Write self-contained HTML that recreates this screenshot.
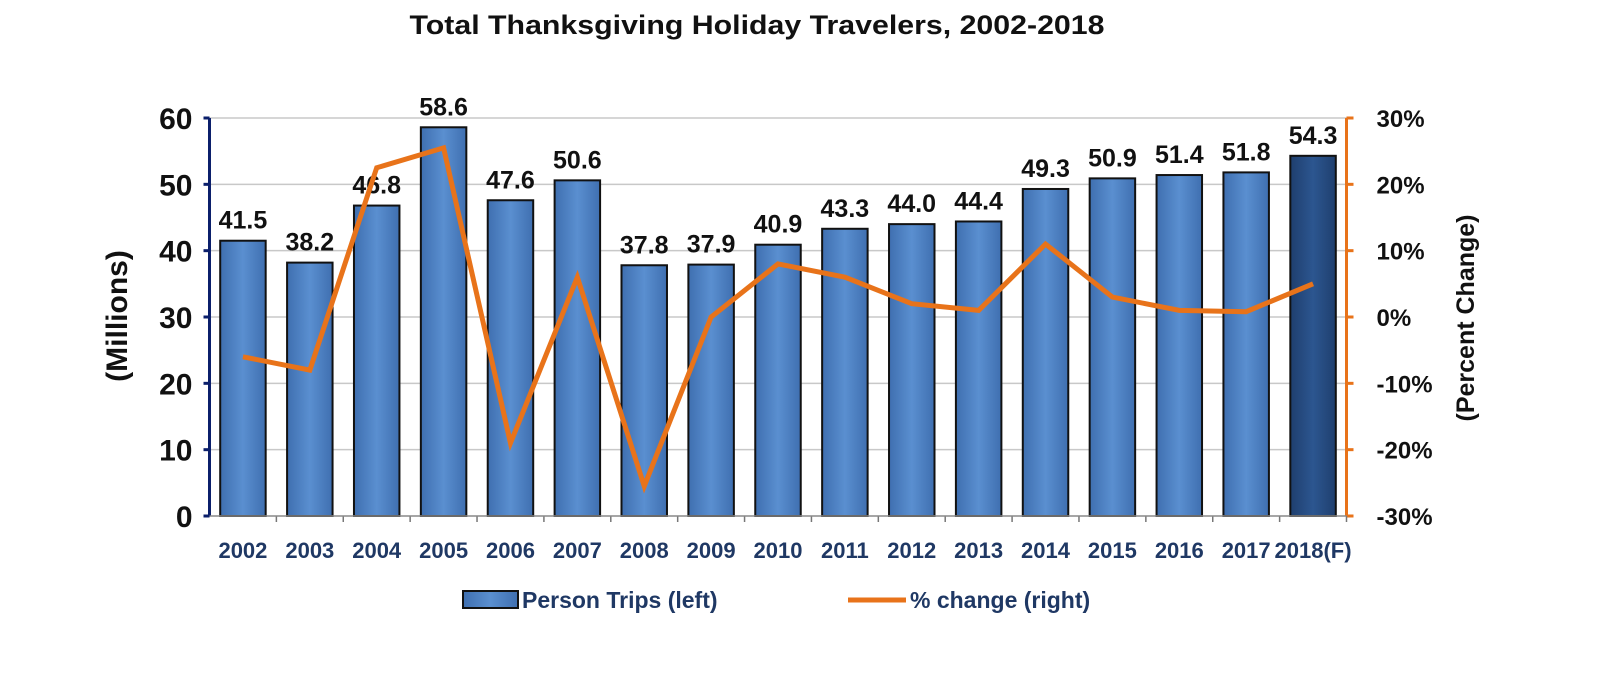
<!DOCTYPE html>
<html><head><meta charset="utf-8"><style>
body{margin:0;background:#fff;}
svg{display:block;font-family:"Liberation Sans",Arial,sans-serif;font-weight:bold;}
</style></head><body>
<svg id="chart" width="1598" height="676" viewBox="0 0 1598 676">
<defs>
<linearGradient id="gb" x1="0" x2="1" y1="0" y2="0">
<stop offset="0" stop-color="#3f6fb0"/><stop offset="0.5" stop-color="#5a8fd0"/><stop offset="1" stop-color="#3f6fb0"/></linearGradient>
<linearGradient id="gd" x1="0" x2="1" y1="0" y2="0">
<stop offset="0" stop-color="#1f3f6e"/><stop offset="0.5" stop-color="#2c5690"/><stop offset="1" stop-color="#1f3f6e"/></linearGradient>
</defs>
<text x="757" y="34" text-anchor="middle" font-size="27" fill="#111" textLength="695" lengthAdjust="spacingAndGlyphs">Total Thanksgiving Holiday Travelers, 2002-2018</text>
<g id="grid"></g><g id="bars"></g><g id="line"></g><g id="axes"></g>
<text transform="translate(127,316) rotate(-90)" text-anchor="middle" font-size="30" fill="#111">(Millions)</text>
<text transform="translate(1474,318) rotate(-90)" text-anchor="middle" font-size="25" fill="#111">(Percent Change)</text>
<g>
<rect x="463" y="591" width="55" height="17" fill="url(#gb)" stroke="#111" stroke-width="2"/>
<text x="522" y="608" font-size="23" fill="#1f3864">Person Trips (left)</text>
<line x1="848" y1="600" x2="906" y2="600" stroke="#e8731a" stroke-width="5"/>
<text x="910" y="608" font-size="23" fill="#1f3864">% change (right)</text>
</g>
</svg>
<script>
const categories=["2002","2003","2004","2005","2006","2007","2008","2009","2010","2011","2012","2013","2014","2015","2016","2017","2018(F)"];
const trips=[41.5,38.2,46.8,58.6,47.6,50.6,37.8,37.9,40.9,43.3,44.0,44.4,49.3,50.9,51.4,51.8,54.3];
const pctChange=[-6,-8,22.5,25.5,-19,6,-25.5,0,8,6,2,1,11,3,1,0.8,5];
const leftTicks=[0,10,20,30,40,50,60];
const rightTicks=[-30,-20,-10,0,10,20,30];
const NS="http://www.w3.org/2000/svg";
const L=209.5,R=1346.5,T=118,B=516;
const step=(R-L)/categories.length;
const xc=i=>L+step*(i+0.5);
const yL=v=>B-(v/60)*(B-T);
const yR=v=>B-((v+30)/60)*(B-T);
function mk(tag,attrs,parent){const e=document.createElementNS(NS,tag);for(const k in attrs)e.setAttribute(k,attrs[k]);document.getElementById(parent).appendChild(e);return e;}
leftTicks.forEach(t=>{
 if(t>0){const g=mk('line',{x1:L,x2:R,y1:yL(t),y2:yL(t),stroke:'#c8c8c8','stroke-width':1.5},'grid');
 
 }
 const tk=mk('line',{x1:L-6,x2:L,y1:yL(t),y2:yL(t),stroke:'#0b1f6b','stroke-width':3},'axes');
 
 
 const tx=mk('text',{x:L-17,y:yL(t)+11,'text-anchor':'end','font-size':30,fill:'#111'},'axes');
 tx.textContent=t;
 
 
});
rightTicks.forEach(t=>{
 const tk=mk('line',{x1:R,x2:R+7,y1:yR(t),y2:yR(t),stroke:'#e8731a','stroke-width':3},'axes');
 
 
 const tx=mk('text',{x:R+30,y:yR(t)+9,'font-size':24,fill:'#111'},'axes');
 tx.textContent=t+'%';
 
 
});
const bw=step*0.68;
categories.forEach((c,i)=>{
 const r=mk('rect',{x:xc(i)-bw/2,y:yL(trips[i]),width:bw,height:B-yL(trips[i]),fill:i===categories.length-1?'url(#gd)':'url(#gb)',stroke:'#111','stroke-width':2},'bars');
 
 
 const v=mk('text',{x:xc(i),y:yL(trips[i])-12,'text-anchor':'middle','font-size':25,fill:'#111'},'bars');
 v.textContent=trips[i].toFixed(1);
 
 
 const xl=mk('text',{x:xc(i),y:558,'text-anchor':'middle','font-size':22,fill:'#1f3864'},'axes');
 xl.textContent=c;
 
 
 const tk=mk('line',{x1:L+step*(i+1),x2:L+step*(i+1),y1:B,y2:B+6,stroke:'#777','stroke-width':1.5},'axes');
 
 
});
const pl=mk('polyline',{points:pctChange.map((v,i)=>xc(i)+','+yR(v)).join(' '),fill:'none',stroke:'#e8731a','stroke-width':5,'stroke-linejoin':'miter'},'line');


const ax1=mk('line',{x1:L,x2:L,y1:T,y2:B,stroke:'#0b1f6b','stroke-width':3},'axes');


const ax2=mk('line',{x1:R,x2:R,y1:T,y2:B,stroke:'#e8731a','stroke-width':3},'axes');


const ax3=mk('line',{x1:L,x2:R,y1:B,y2:B,stroke:'#888','stroke-width':1.5},'axes');


</script>
</body></html>
